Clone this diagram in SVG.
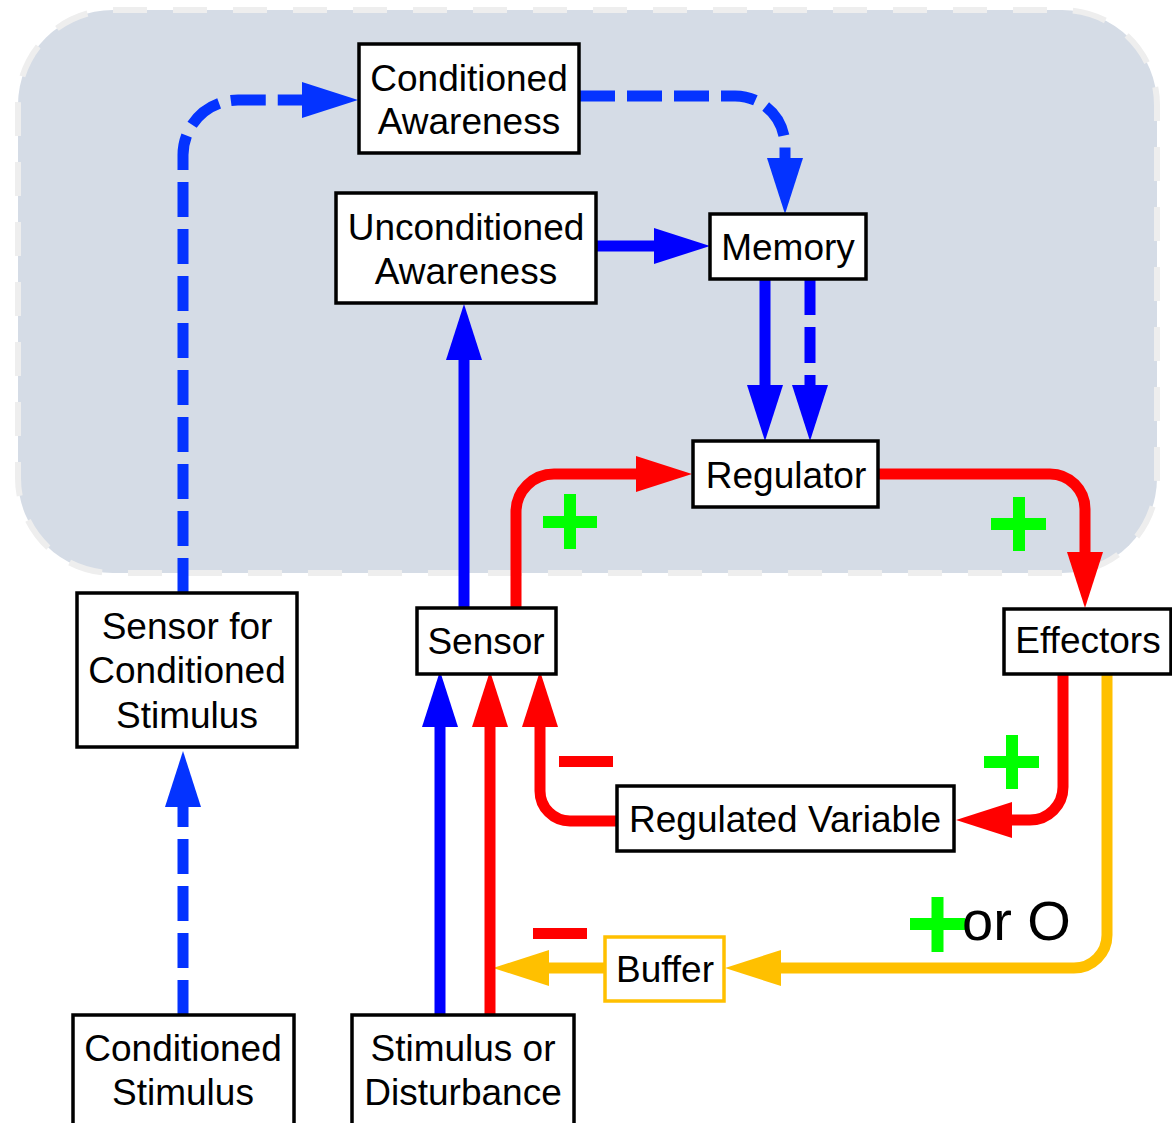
<svg xmlns="http://www.w3.org/2000/svg" width="1172" height="1123" viewBox="0 0 1172 1123">
<style>
.box{fill:#fff;stroke:#000;stroke-width:3.5}
.buf{fill:#fff;stroke:#ffc000;stroke-width:3.5}
text{font-family:"Liberation Sans",Arial,sans-serif;font-size:37px;fill:#000;text-anchor:middle}
.c{fill:none;stroke-width:11}
.b{stroke:#0000ff}
.bd{stroke:#0433ff;stroke-dasharray:35 12}
.bd2{stroke:#0000ff;stroke-dasharray:36 12}
.r{stroke:#ff0000}
.o{stroke:#ffc000}
.plus{stroke:#00ff00;stroke-width:12}
.minus{stroke:#ff0000;stroke-width:11}
</style>
<defs>
<marker id="mb" viewBox="0 0 56 36" refX="0" refY="18" markerWidth="56" markerHeight="36" markerUnits="userSpaceOnUse" orient="auto"><path d="M0,0 L56,18 L0,36 z" fill="#0000ff"/></marker>
<marker id="mbd" viewBox="0 0 56 36" refX="0" refY="18" markerWidth="56" markerHeight="36" markerUnits="userSpaceOnUse" orient="auto"><path d="M0,0 L56,18 L0,36 z" fill="#0433ff"/></marker>
<marker id="mr" viewBox="0 0 56 36" refX="0" refY="18" markerWidth="56" markerHeight="36" markerUnits="userSpaceOnUse" orient="auto"><path d="M0,0 L56,18 L0,36 z" fill="#ff0000"/></marker>
<marker id="mo" viewBox="0 0 56 36" refX="0" refY="18" markerWidth="56" markerHeight="36" markerUnits="userSpaceOnUse" orient="auto"><path d="M0,0 L56,18 L0,36 z" fill="#ffc000"/></marker>
</defs>
<rect id="region" x="18" y="10" width="1139" height="563" rx="95" ry="95" fill="#d5dce6" stroke="#eeeeee" stroke-width="6" stroke-dasharray="34 26"/>
<g id="connectors">
<path class="c o" d="M1107,674 V935 A33,33 0 0 1 1074,968 H781" marker-end="url(#mo)"/>
<path class="c o" d="M605,968 H549" marker-end="url(#mo)"/>
<path class="c bd" d="M183,593 V155 A55,55 0 0 1 238,100 H302" marker-end="url(#mbd)"/>
<path class="c bd" d="M580,96 H735 A50,50 0 0 1 785,146 V158" marker-end="url(#mbd)"/>
<path class="c b" d="M597,246 H654" marker-end="url(#mb)"/>
<path class="c b" d="M765,279 V385" marker-end="url(#mb)"/>
<path class="c bd2" d="M810,279 V385" marker-end="url(#mb)"/>
<path class="c b" d="M440,1015 V727" marker-end="url(#mb)"/>
<path class="c b" d="M464,608 V360" marker-end="url(#mb)"/>
<path class="c r" d="M490,1015 V727" marker-end="url(#mr)"/>
<path class="c r" d="M617,821 H570 A30,30 0 0 1 540,791 V727" marker-end="url(#mr)"/>
<path class="c r" d="M516,608 V512 A38,38 0 0 1 554,474 H636" marker-end="url(#mr)"/>
<path class="c r" d="M878,474 H1050 A35,35 0 0 1 1085,509 V552" marker-end="url(#mr)"/>
<path class="c r" d="M1063,674 V787 A33,33 0 0 1 1030,820 H1012" marker-end="url(#mr)"/>
<path class="c bd" d="M183,1015 V807" marker-end="url(#mbd)"/>
</g>
<g id="signs">
<path class="plus" d="M543,522 H597 M570,494 V549"/>
<path class="plus" d="M991,524 H1046 M1019,497 V551"/>
<path class="plus" d="M984,762 H1039 M1012,735 V789"/>
<path class="plus" d="M910,924 H965 M937.5,897 V952"/>
<path class="minus" d="M559,761.5 H613"/>
<path class="minus" d="M533,933.5 H587"/>
<text x="962" y="940" style="font-size:56px;text-anchor:start">or O</text>
</g>
<g id="conditioned-awareness"><rect class="box" x="359" y="44" width="220" height="109"/><text x="469" y="91">Conditioned</text><text x="469" y="134">Awareness</text></g>
<g id="unconditioned-awareness"><rect class="box" x="336" y="193" width="260" height="110"/><text x="466" y="240">Unconditioned</text><text x="466" y="284">Awareness</text></g>
<g id="memory"><rect class="box" x="710" y="214" width="156" height="65"/><text x="788" y="260">Memory</text></g>
<g id="regulator"><rect class="box" x="693" y="441" width="185" height="66"/><text x="786" y="488">Regulator</text></g>
<g id="sensor"><rect class="box" x="417" y="608" width="139" height="66"/><text x="486" y="654">Sensor</text></g>
<g id="effectors"><rect class="box" x="1004" y="609" width="167" height="65"/><text x="1088" y="653">Effectors</text></g>
<g id="regulated-variable"><rect class="box" x="617" y="786" width="337" height="65"/><text x="785" y="832">Regulated Variable</text></g>
<g id="buffer"><rect class="buf" x="605" y="937" width="119" height="64"/><text x="665" y="982">Buffer</text></g>
<g id="sensor-cs"><rect class="box" x="77" y="593" width="220" height="154"/><text x="187" y="639">Sensor for</text><text x="187" y="683">Conditioned</text><text x="187" y="728">Stimulus</text></g>
<g id="conditioned-stimulus"><rect class="box" x="73" y="1015" width="221" height="120"/><text x="183" y="1061">Conditioned</text><text x="183" y="1105">Stimulus</text></g>
<g id="stimulus-disturbance"><rect class="box" x="352" y="1015" width="222" height="120"/><text x="463" y="1061">Stimulus or</text><text x="463" y="1105">Disturbance</text></g>
</svg>
